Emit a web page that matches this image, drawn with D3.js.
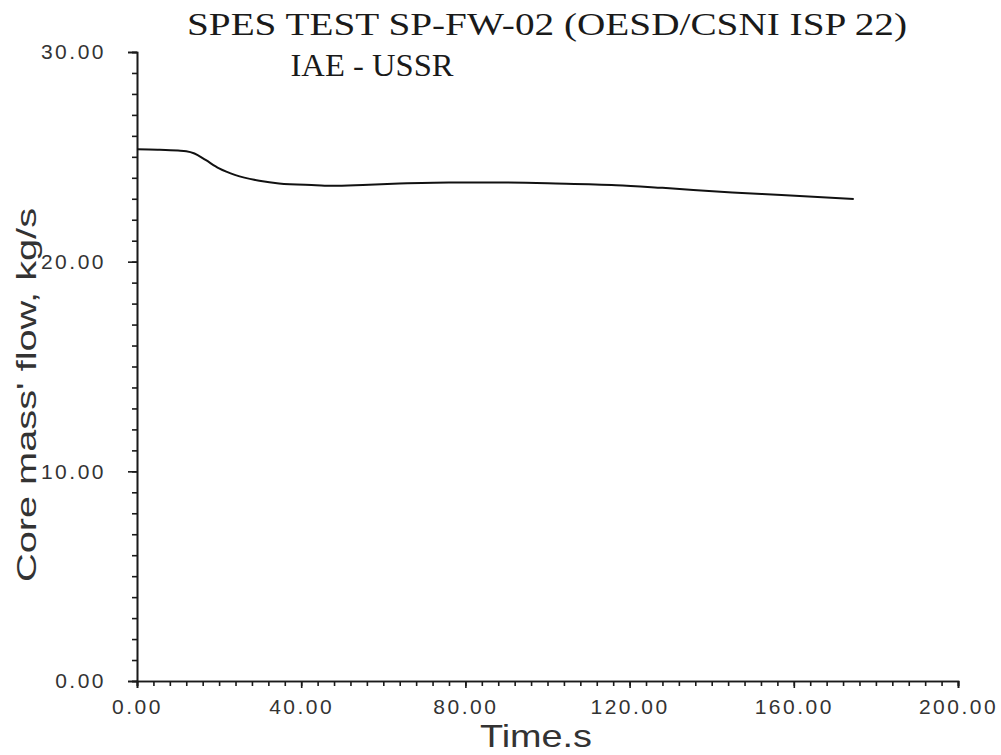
<!DOCTYPE html>
<html><head><meta charset="utf-8">
<script src="https://cdn.jsdelivr.net/npm/d3@7"></script>
<style>body{margin:0;background:#fff}svg{display:block}</style>
</head><body><svg id="c" width="1001" height="755"></svg>
<script>
const titleLines = ["SPES TEST SP-FW-02 (OESD/CSNI ISP 22)", "IAE  -  USSR"];
const xLabel = "Time.s";
const yLabel = "Core mass' flow, kg/s";
const xMajorTicks = [0, 40, 80, 120, 160, 200];
const yMajorTicks = [0, 10, 20, 30];
const timeS = [0, 5, 10, 12, 14, 16.7, 20, 24, 29.8, 34.6, 43.6, 47.6, 55, 63.9, 76, 86, 102, 116.7, 128, 145, 157, 174.6];
const coreFlow = [25.36, 25.34, 25.3, 25.27, 25.16, 24.85, 24.45, 24.13, 23.86, 23.73, 23.65, 23.62, 23.66, 23.73, 23.78, 23.78, 23.73, 23.65, 23.52, 23.3, 23.18, 22.99];

const svg = d3.select("#c");
const x = d3.scaleLinear().domain([0, 200]).range([137, 958]);
const y = d3.scaleLinear().domain([0, 30]).range([681, 52]);
const ink = "#1a1a1a";
const fmt = d3.format(".2f");

// x axis minor
const gx = svg.append("g").attr("transform", `translate(0,${y(0)})`);
gx.call(d3.axisBottom(x).tickValues(d3.range(0, 201, 4)).tickSize(5).tickFormat(""));
const gxM = svg.append("g").attr("transform", `translate(0,${y(0)})`);
gxM.call(d3.axisBottom(x).tickValues(xMajorTicks).tickSize(7).tickFormat(fmt).tickPadding(7));
[gx, gxM].forEach(g => {
  g.select(".domain").attr("stroke", ink).attr("stroke-width", 1.6);
  g.selectAll(".tick line").attr("stroke", ink).attr("stroke-width", 1.6);
});
gxM.selectAll(".tick text").attr("fill", "#333").style("font-family", "Liberation Sans, sans-serif")
  .style("font-size", "21px").style("letter-spacing", "2.5px").attr("dy", "0.9em");

// y axis
const gy = svg.append("g").attr("transform", `translate(${x(0)},0)`);
gy.call(d3.axisLeft(y).tickValues(d3.range(0, 31, 1)).tickSize(5).tickFormat(""));
const gyM = svg.append("g").attr("transform", `translate(${x(0)},0)`);
gyM.call(d3.axisLeft(y).tickValues(yMajorTicks).tickSize(9).tickFormat(fmt).tickPadding(22));
[gy, gyM].forEach(g => {
  g.select(".domain").attr("stroke", ink).attr("stroke-width", 1.6);
  g.selectAll(".tick line").attr("stroke", ink).attr("stroke-width", 1.6);
});
gyM.selectAll(".tick text").attr("fill", "#333").style("font-family", "Liberation Sans, sans-serif")
  .style("font-size", "21px").style("letter-spacing", "2.5px");

// data line
const line = d3.line().x((d, i) => x(timeS[i])).y(d => y(d)).curve(d3.curveMonotoneX);
svg.append("path").datum(coreFlow).attr("d", line).attr("fill", "none")
  .attr("stroke", "#111").attr("stroke-width", 2);

// titles
svg.append("text").attr("x", 547).attr("y", 35).attr("text-anchor", "middle")
  .attr("textLength", 720).attr("lengthAdjust", "spacingAndGlyphs")
  .style("font-family", "Liberation Serif, serif").style("font-size", "31px").attr("fill", ink)
  .text(titleLines[0]);
svg.append("text").attr("x", 372).attr("y", 76).attr("text-anchor", "middle")
  .attr("textLength", 163).attr("lengthAdjust", "spacingAndGlyphs")
  .style("font-family", "Liberation Serif, serif").style("font-size", "31px").attr("fill", ink)
  .text(titleLines[1]);

// axis labels
svg.append("text").attr("x", 536).attr("y", 747).attr("text-anchor", "middle")
  .attr("textLength", 112).attr("lengthAdjust", "spacingAndGlyphs")
  .style("font-family", "Liberation Sans, sans-serif").style("font-size", "32px").attr("fill", "#333")
  .text(xLabel);
svg.append("text").attr("transform", "translate(36,395) rotate(-90)").attr("text-anchor", "middle")
  .attr("textLength", 374).attr("lengthAdjust", "spacingAndGlyphs")
  .style("font-family", "Liberation Sans, sans-serif").style("font-size", "28px").attr("fill", "#333")
  .text(yLabel);
</script></body></html>
